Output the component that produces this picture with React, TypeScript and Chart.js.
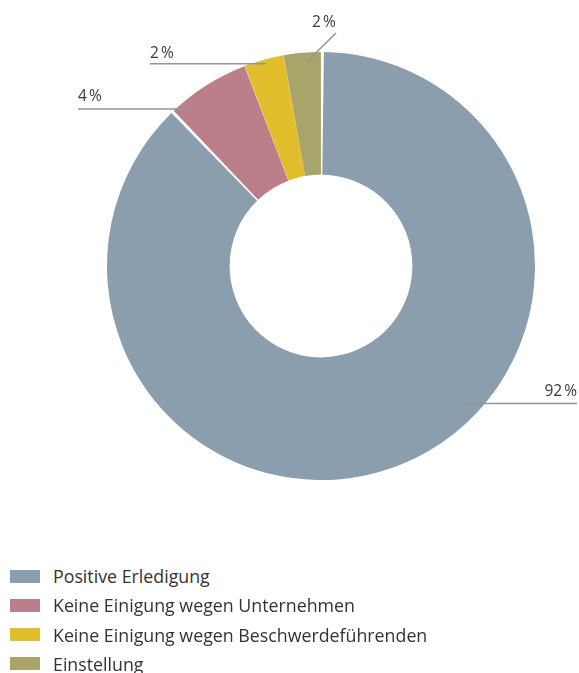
import React, { useEffect, useRef } from "react";
import { Chart, registerables } from "chart.js";

Chart.register(...registerables);

const categories = [
  "Positive Erledigung",
  "Keine Einigung wegen Unternehmen",
  "Keine Einigung wegen Beschwerdeführenden",
  "Einstellung",
];
// slice sizes as drawn in the picture
const sliceValues = [87.9, 6.3, 3.0, 2.8];
// printed percentage labels
const percentLabels = ["92\u202F%", "4\u202F%", "2\u202F%", "2\u202F%"];
const colors = ["#8A9EAD", "#BA7F89", "#E2BE2D", "#A8A46A"];

// label leader layout: t = fraction along arc, rf = fraction across ring
const labelLayout = [
  { t: 0.424, rf: 0.87, mode: "h", endX: 577, align: "right", textX: 577, dy: -7 },
  { t: 0.2, rf: 0.91, mode: "h", endX: 78, align: "left", textX: 78, dy: -8 },
  { t: 0.52, rf: 0.97, mode: "h", endX: 150, align: "left", textX: 150, dy: -6 },
  { t: 0.61, rf: 0.93, mode: "d", endX: 336, endY: 33, align: "left", textX: 312, textY: 27 },
];

const leaderPlugin = {
  id: "leaders",
  afterDatasetsDraw(chart: any) {
    const meta = chart.getDatasetMeta(0);
    const ctx = chart.ctx;
    ctx.save();
    ctx.font = "15.5px 'Open Sans', sans-serif";
    ctx.fillStyle = "#3a3a3a";
    ctx.strokeStyle = "#949494";
    ctx.lineWidth = 1.5;
    meta.data.forEach((arc: any, i: number) => {
      const L: any = labelLayout[i];
      const a = arc.startAngle + L.t * (arc.endAngle - arc.startAngle);
      const r = arc.innerRadius + L.rf * (arc.outerRadius - arc.innerRadius);
      const px = arc.x + r * Math.cos(a);
      const py = arc.y + r * Math.sin(a);
      ctx.beginPath();
      ctx.moveTo(px, py);
      if (L.mode === "h") {
        ctx.lineTo(L.endX, py);
      } else {
        ctx.lineTo(L.endX, L.endY);
      }
      ctx.stroke();
      ctx.textAlign = L.align;
      ctx.textBaseline = "alphabetic";
      const ty = L.mode === "h" ? py + L.dy : L.textY;
      ctx.fillText(percentLabels[i], L.textX, ty);
    });
    ctx.restore();
  },
};

export default function App() {
  const ref = useRef<HTMLCanvasElement>(null);
  useEffect(() => {
    const chart = new Chart(ref.current!, {
      type: "doughnut",
      data: {
        labels: categories,
        datasets: [
          {
            data: sliceValues,
            backgroundColor: colors,
            borderWidth: 0,
            spacing: 1.5,
          },
        ],
      },
      options: {
        responsive: false,
        animation: false,
        cutout: "42.5%",
        layout: { padding: { left: 107, right: 44, top: 52, bottom: 60 } },
        plugins: {
          legend: { display: false },
          tooltip: { enabled: false },
        },
      },
      plugins: [leaderPlugin],
    });
    return () => chart.destroy();
  }, []);

  return (
    <div
      style={{
        position: "fixed",
        left: 0,
        top: 0,
        width: 579,
        height: 673,
        background: "#fff",
        fontFamily: "'Open Sans', sans-serif",
      }}
    >
      <canvas ref={ref} width={579} height={540} style={{ position: "absolute", left: 0, top: 0 }} />
      {categories.map((c, i) => (
        <div
          key={c}
          style={{
            position: "absolute",
            left: 10,
            top: 565 + i * 29.3,
            height: 22,
            display: "flex",
            alignItems: "center",
            whiteSpace: "nowrap",
          }}
        >
          <span
            style={{
              display: "inline-block",
              width: 30,
              height: 13,
              background: colors[i],
              marginRight: 13,
            }}
          />
          <span style={{ fontSize: 17.8, color: "#333", lineHeight: "22px" }}>{c}</span>
        </div>
      ))}
    </div>
  );
}
